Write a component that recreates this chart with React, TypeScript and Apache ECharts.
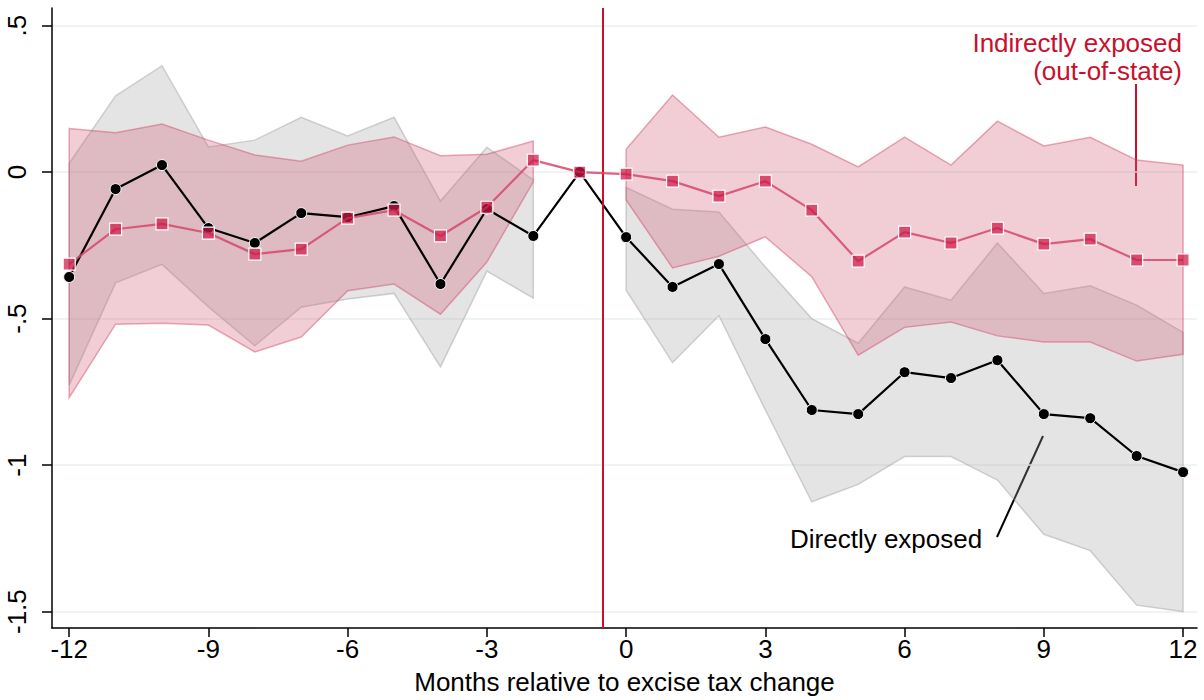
import React, { useEffect, useRef } from "react";
import * as echarts from "echarts";

const months = [-12, -11, -10, -9, -8, -7, -6, -5, -4, -3, -2, -1, 0, 1, 2, 3, 4, 5, 6, 7, 8, 9, 10, 11, 12];

const direct = [-0.358, -0.058, 0.024, -0.191, -0.242, -0.14, -0.154, -0.116, -0.382, -0.126, -0.218, 0, -0.222, -0.392, -0.314, -0.57, -0.812, -0.826, -0.683, -0.703, -0.642, -0.826, -0.84, -0.969, -1.024];
const directHi = [0.03, 0.26, 0.363, 0.086, 0.109, 0.187, 0.123, 0.187, -0.099, 0.085, -0.027, null, -0.052, -0.127, -0.136, -0.324, -0.5, -0.584, -0.392, -0.437, -0.242, -0.414, -0.388, -0.454, -0.547];
const directLo = [-0.727, -0.378, -0.315, -0.46, -0.593, -0.461, -0.433, -0.414, -0.665, -0.338, -0.43, null, -0.403, -0.65, -0.49, -0.812, -1.125, -1.066, -0.971, -0.971, -1.051, -1.236, -1.292, -1.478, -1.5];

const indirect = [-0.314, -0.195, -0.177, -0.208, -0.28, -0.263, -0.157, -0.13, -0.218, -0.12, 0.041, 0, -0.007, -0.031, -0.082, -0.031, -0.13, -0.304, -0.205, -0.242, -0.191, -0.246, -0.229, -0.3, -0.3];
const indirectHi = [0.149, 0.134, 0.164, 0.109, 0.058, 0.037, 0.092, 0.12, 0.056, 0.061, 0.106, null, 0.078, 0.263, 0.119, 0.154, 0.095, 0.018, 0.119, 0.024, 0.174, 0.089, 0.119, 0.041, 0.024];
const indirectLo = [-0.77, -0.519, -0.516, -0.522, -0.614, -0.563, -0.405, -0.382, -0.485, -0.307, -0.033, null, -0.095, -0.327, -0.287, -0.221, -0.357, -0.625, -0.53, -0.512, -0.559, -0.58, -0.58, -0.645, -0.622];

const xTicks = [-12, -9, -6, -3, 0, 3, 6, 9, 12];
const yTicks = [-1.5, -1, -0.5, 0, 0.5];
const eventMonth = -0.5;

const CRIMSON = "#c8102e";
const FONT = "Liberation Sans";
const FS = 26;

function segments(lo: (number | null)[], hi: (number | null)[]) {
  const segs: number[][][] = [];
  let cur: number[][] = [];
  months.forEach((m, i) => {
    if (lo[i] == null || hi[i] == null) {
      if (cur.length) segs.push(cur);
      cur = [];
    } else {
      cur.push([m, lo[i] as number, hi[i] as number]);
    }
  });
  if (cur.length) segs.push(cur);
  return segs;
}

function bandSeries(lo: (number | null)[], hi: (number | null)[], fill: string, stroke: string, z: number) {
  const segs = segments(lo, hi);
  const rows = segs.flat();
  return {
    type: "custom",
    z,
    silent: true,
    data: rows,
    encode: { x: 0, y: [1, 2] },
    renderItem: (params: any, api: any) => {
      if (params.dataIndex !== 0) return null;
      const children = segs.map((seg) => {
        const top = seg.map((r) => api.coord([r[0], r[2]]));
        const bot = seg.slice().reverse().map((r) => api.coord([r[0], r[1]]));
        return {
          type: "polygon",
          shape: { points: top.concat(bot) },
          style: { fill, stroke, lineWidth: 1.5 },
        };
      });
      return { type: "group", children };
    },
  };
}

export default function App() {
  const ref = useRef<HTMLDivElement>(null);
  useEffect(() => {
    const chart = echarts.init(ref.current as HTMLDivElement, undefined, { renderer: "svg" });
    const fmt = (v: number) => (v === 0 ? "0" : String(v).replace("0.", "."));
    chart.setOption({
      animation: false,
      grid: { left: 52, right: 7, top: 8, bottom: 71, containLabel: false },
      xAxis: {
        type: "value",
        min: -12.37,
        max: 12.3,
        name: "Months relative to excise tax change",
        nameLocation: "middle",
        nameGap: 41,
        nameTextStyle: { fontFamily: FONT, fontSize: FS, color: "#000" },
        axisLine: { show: true, onZero: false, lineStyle: { color: "#000", width: 1.5 } },
        axisTick: { show: true, length: 9, customValues: xTicks, lineStyle: { color: "#000", width: 1.5 } },
        axisLabel: { customValues: xTicks, fontFamily: FONT, fontSize: FS, color: "#000", margin: 8 },
        splitLine: { show: false },
      },
      yAxis: {
        type: "value",
        min: -1.556,
        max: 0.56,
        axisLine: { show: true, onZero: false, lineStyle: { color: "#000", width: 1.5 } },
        axisTick: { show: true, length: 10, customValues: yTicks, lineStyle: { color: "#000", width: 1.5 } },
        axisLabel: { customValues: yTicks, rotate: 90, formatter: fmt, fontFamily: FONT, fontSize: FS, color: "#000", margin: 22 },
        splitLine: { show: true, lineStyle: { color: "#e8f0f2", width: 1.5 } },
      },
      series: [
        bandSeries(directLo, directHi, "rgba(165,165,165,0.3)", "rgba(150,150,150,0.4)", 1),
        bandSeries(indirectLo, indirectHi, "rgba(208,88,115,0.3)", "rgba(208,70,105,0.45)", 2),
        {
          type: "line",
          z: 4,
          data: months.map((m, i) => [m, direct[i]]),
          lineStyle: { color: "#000", width: 2.2 },
          itemStyle: { color: "#000", borderColor: "#fff", borderWidth: 1 },
          symbol: "circle",
          symbolSize: 11,
          showSymbol: true,
          markLine: {
            silent: true,
            symbol: "none",
            label: { show: false },
            lineStyle: { color: CRIMSON, width: 2, type: "solid" },
            data: [{ xAxis: eventMonth }],
          },
        },
        {
          type: "line",
          z: 5,
          data: months.map((m, i) => [m, indirect[i]]),
          lineStyle: { color: "rgba(214,70,108,0.85)", width: 2.2 },
          itemStyle: { color: "rgba(205,25,70,0.72)", borderColor: "#fff", borderWidth: 1.2 },
          symbol: "rect",
          symbolSize: 12,
          showSymbol: true,
        },
      ],
      graphic: [
        {
          type: "text",
          x: 1182,
          y: 43,
          style: { text: "Indirectly exposed", align: "right", verticalAlign: "middle", fill: CRIMSON, fontFamily: FONT, fontSize: FS },
        },
        {
          type: "text",
          x: 1182,
          y: 71,
          style: { text: "(out-of-state)", align: "right", verticalAlign: "middle", fill: CRIMSON, fontFamily: FONT, fontSize: FS },
        },
        {
          type: "line",
          shape: { x1: 1136, y1: 84, x2: 1136, y2: 186 },
          style: { stroke: CRIMSON, lineWidth: 2 },
        },
        {
          type: "text",
          x: 790,
          y: 539,
          style: { text: "Directly exposed", align: "left", verticalAlign: "middle", fill: "#000", fontFamily: FONT, fontSize: FS },
        },
        {
          type: "line",
          shape: { x1: 997, y1: 537, x2: 1043, y2: 436 },
          style: { stroke: "#000", lineWidth: 2 },
        },
      ],
    });
    return () => chart.dispose();
  }, []);
  return <div ref={ref} style={{ position: "fixed", left: 0, top: 0, width: 1204, height: 700, background: "#fff" }} />;
}
